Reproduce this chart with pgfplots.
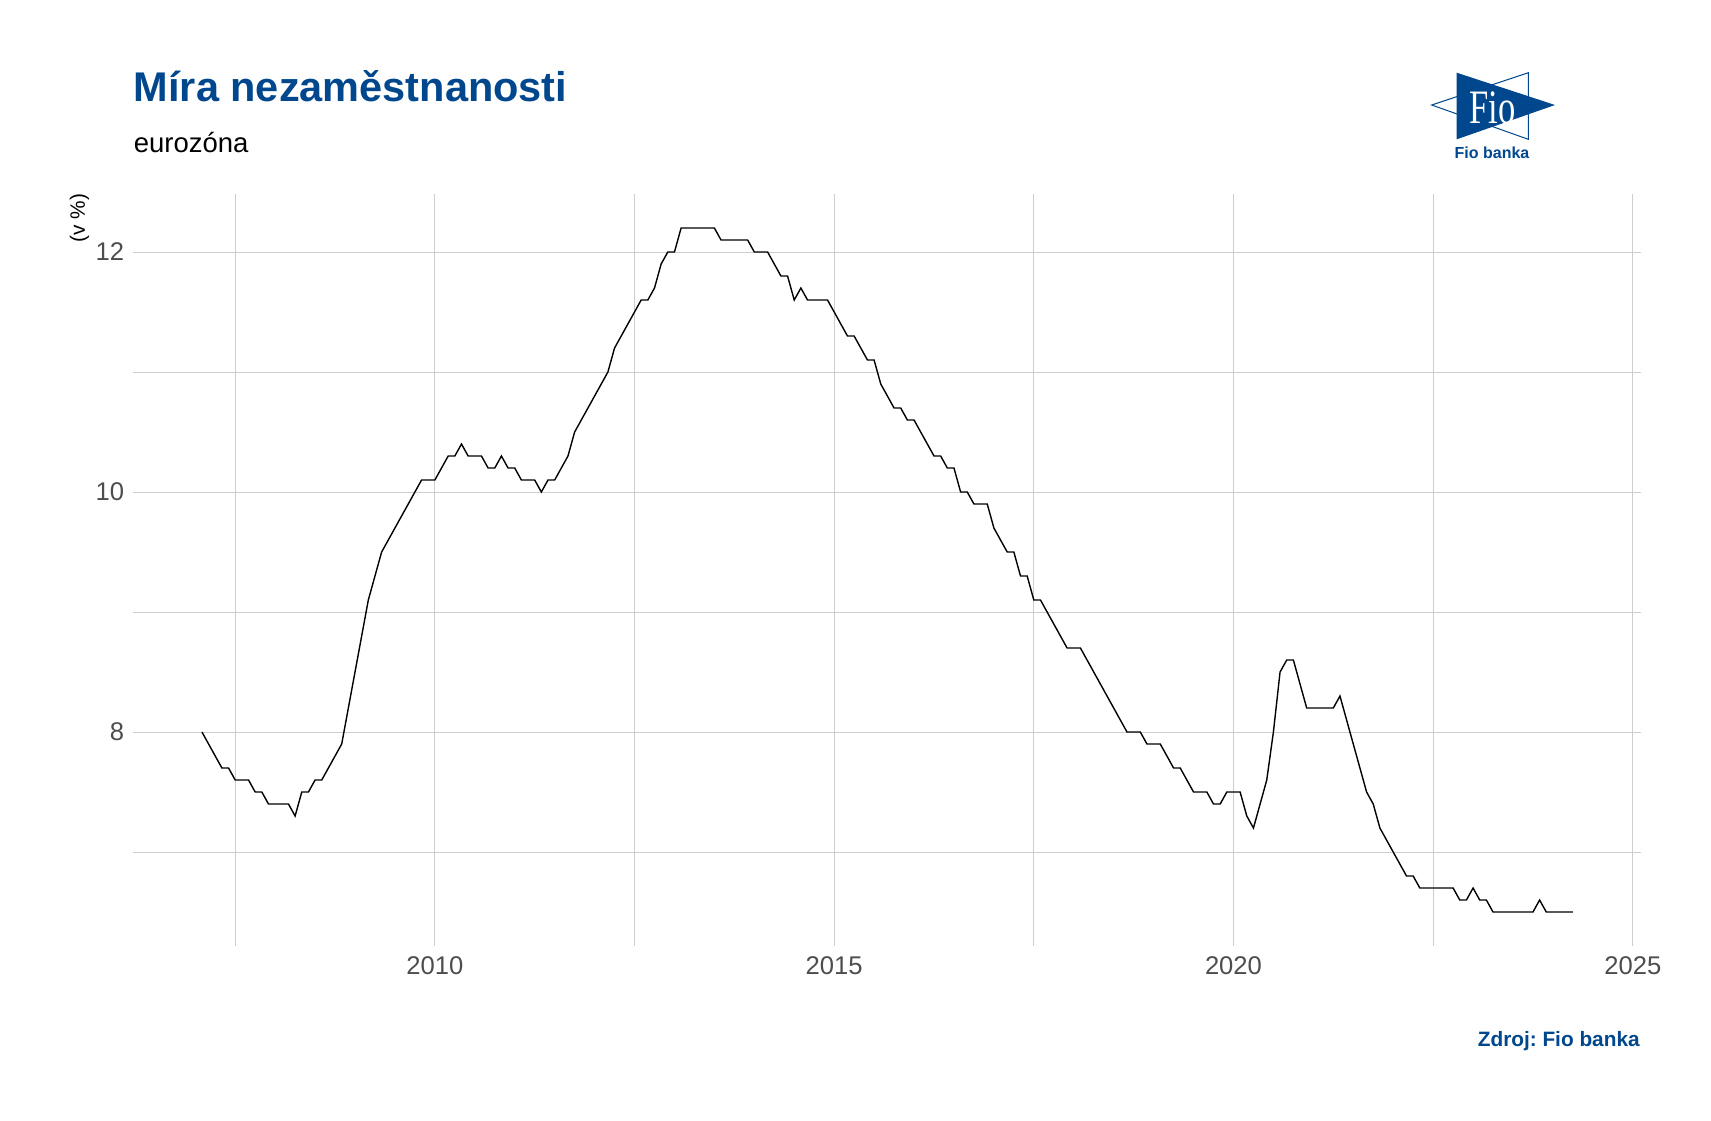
\documentclass[border=0pt]{standalone}
\usepackage{fontspec}
\setmainfont{Liberation Sans}
\newfontfamily\logoserif{Liberation Serif}
\usepackage{pgfplots}
\usepackage{pgfplotstable}
\pgfplotsset{compat=1.18}
\frenchspacing

\definecolor{fioblue}{RGB}{0,71,141}
\definecolor{gridgrey}{RGB}{206,206,206}
\definecolor{ticktext}{RGB}{77,77,77}

% eurozone unemployment rate, monthly (in %)
\pgfplotstableread{
yr mo val
2007 2 8.0
2007 3 7.9
2007 4 7.8
2007 5 7.7
2007 6 7.7
2007 7 7.6
2007 8 7.6
2007 9 7.6
2007 10 7.5
2007 11 7.5
2007 12 7.4
2008 1 7.4
2008 2 7.4
2008 3 7.4
2008 4 7.3
2008 5 7.5
2008 6 7.5
2008 7 7.6
2008 8 7.6
2008 9 7.7
2008 10 7.8
2008 11 7.9
2008 12 8.2
2009 1 8.5
2009 2 8.8
2009 3 9.1
2009 4 9.3
2009 5 9.5
2009 6 9.6
2009 7 9.7
2009 8 9.8
2009 9 9.9
2009 10 10.0
2009 11 10.1
2009 12 10.1
2010 1 10.1
2010 2 10.2
2010 3 10.3
2010 4 10.3
2010 5 10.4
2010 6 10.3
2010 7 10.3
2010 8 10.3
2010 9 10.2
2010 10 10.2
2010 11 10.3
2010 12 10.2
2011 1 10.2
2011 2 10.1
2011 3 10.1
2011 4 10.1
2011 5 10.0
2011 6 10.1
2011 7 10.1
2011 8 10.2
2011 9 10.3
2011 10 10.5
2011 11 10.6
2011 12 10.7
2012 1 10.8
2012 2 10.9
2012 3 11.0
2012 4 11.2
2012 5 11.3
2012 6 11.4
2012 7 11.5
2012 8 11.6
2012 9 11.6
2012 10 11.7
2012 11 11.9
2012 12 12.0
2013 1 12.0
2013 2 12.2
2013 3 12.2
2013 4 12.2
2013 5 12.2
2013 6 12.2
2013 7 12.2
2013 8 12.1
2013 9 12.1
2013 10 12.1
2013 11 12.1
2013 12 12.1
2014 1 12.0
2014 2 12.0
2014 3 12.0
2014 4 11.9
2014 5 11.8
2014 6 11.8
2014 7 11.6
2014 8 11.7
2014 9 11.6
2014 10 11.6
2014 11 11.6
2014 12 11.6
2015 1 11.5
2015 2 11.4
2015 3 11.3
2015 4 11.3
2015 5 11.2
2015 6 11.1
2015 7 11.1
2015 8 10.9
2015 9 10.8
2015 10 10.7
2015 11 10.7
2015 12 10.6
2016 1 10.6
2016 2 10.5
2016 3 10.4
2016 4 10.3
2016 5 10.3
2016 6 10.2
2016 7 10.2
2016 8 10.0
2016 9 10.0
2016 10 9.9
2016 11 9.9
2016 12 9.9
2017 1 9.7
2017 2 9.6
2017 3 9.5
2017 4 9.5
2017 5 9.3
2017 6 9.3
2017 7 9.1
2017 8 9.1
2017 9 9.0
2017 10 8.9
2017 11 8.8
2017 12 8.7
2018 1 8.7
2018 2 8.7
2018 3 8.6
2018 4 8.5
2018 5 8.4
2018 6 8.3
2018 7 8.2
2018 8 8.1
2018 9 8.0
2018 10 8.0
2018 11 8.0
2018 12 7.9
2019 1 7.9
2019 2 7.9
2019 3 7.8
2019 4 7.7
2019 5 7.7
2019 6 7.6
2019 7 7.5
2019 8 7.5
2019 9 7.5
2019 10 7.4
2019 11 7.4
2019 12 7.5
2020 1 7.5
2020 2 7.5
2020 3 7.3
2020 4 7.2
2020 5 7.4
2020 6 7.6
2020 7 8.0
2020 8 8.5
2020 9 8.6
2020 10 8.6
2020 11 8.4
2020 12 8.2
2021 1 8.2
2021 2 8.2
2021 3 8.2
2021 4 8.2
2021 5 8.3
2021 6 8.1
2021 7 7.9
2021 8 7.7
2021 9 7.5
2021 10 7.4
2021 11 7.2
2021 12 7.1
2022 1 7.0
2022 2 6.9
2022 3 6.8
2022 4 6.8
2022 5 6.7
2022 6 6.7
2022 7 6.7
2022 8 6.7
2022 9 6.7
2022 10 6.7
2022 11 6.6
2022 12 6.6
2023 1 6.7
2023 2 6.6
2023 3 6.6
2023 4 6.5
2023 5 6.5
2023 6 6.5
2023 7 6.5
2023 8 6.5
2023 9 6.5
2023 10 6.5
2023 11 6.6
2023 12 6.5
2024 1 6.5
2024 2 6.5
2024 3 6.5
2024 4 6.5
}\unemp

\begin{document}
\begin{tikzpicture}
\useasboundingbox (0,0) rectangle (855.5pt,-560pt);

\begin{axis}[
  at={(66.7pt,-473.1pt)}, anchor=south west,
  width=754pt, height=376.2pt, scale only axis,
  xmin=2006.225, xmax=2025.108,
  ymin=6.215, ymax=12.485,
  axis line style={draw=none},
  tick style={draw=none},
  xtick={2010,2015,2020,2025},
  minor xtick={2007.5,2012.5,2017.5,2022.5},
  ytick={8,10,12},
  minor ytick={7,9,11},
  grid=both,
  major grid style={gridgrey, line width=0.5pt},
  minor grid style={gridgrey, line width=0.5pt},
  /pgf/number format/assume math mode=true,
  /pgf/number format/1000 sep={},
  xticklabel style={font=\fontsize{12.8}{12.8}\selectfont, text=ticktext, inner sep=0pt, anchor=north},
  xticklabel shift=5.2pt,
  yticklabel style={font=\fontsize{12.8}{12.8}\selectfont, text=ticktext, inner sep=0pt, anchor=east},
  yticklabel shift=4.4pt,
  clip=false,
]
\addplot[black, line width=0.7pt]
  table[x expr=\thisrow{yr}+(\thisrow{mo}-1)/12, y=val] {\unemp};
\end{axis}

% titles
\node[anchor=base west, inner sep=0pt, text=fioblue,
      font=\bfseries\fontsize{20.75}{20.75}\selectfont] at (66.7pt,-50.5pt) {Míra nezaměstnanosti};
\node[anchor=base west, inner sep=0pt,
      font=\fontsize{13.75}{13.75}\selectfont] at (66.7pt,-76.15pt) {eurozóna};
\node[rotate=90, anchor=east, inner sep=0pt,
      font=\fontsize{10.4}{10.4}\selectfont] at (39.75pt,-96.65pt) {(v \%)};
\node[anchor=base east, inner sep=0pt, text=fioblue,
      font=\bfseries\fontsize{10.4}{10.4}\selectfont] at (820pt,-523.35pt) {Zdroj: Fio banka};

% logo
\draw[fioblue, line width=0.5pt, fill=white]
  (715.85pt,-52.5pt) -- (764.15pt,-36.35pt) -- (764.15pt,-69.65pt) -- cycle;
\fill[fioblue] (728.35pt,-36.35pt) -- (777.5pt,-52.5pt) -- (728.35pt,-69.65pt) -- cycle;
\node[anchor=base, inner sep=0pt, text=white, xscale=0.72,
      font=\logoserif\fontsize{24}{24}\selectfont] at (746.25pt,-61.65pt) {Fio};
\node[anchor=base, inner sep=0pt, text=fioblue,
      font=\bfseries\fontsize{8}{8}\selectfont] at (746pt,-79.15pt) {Fio banka};
\end{tikzpicture}
\end{document}
